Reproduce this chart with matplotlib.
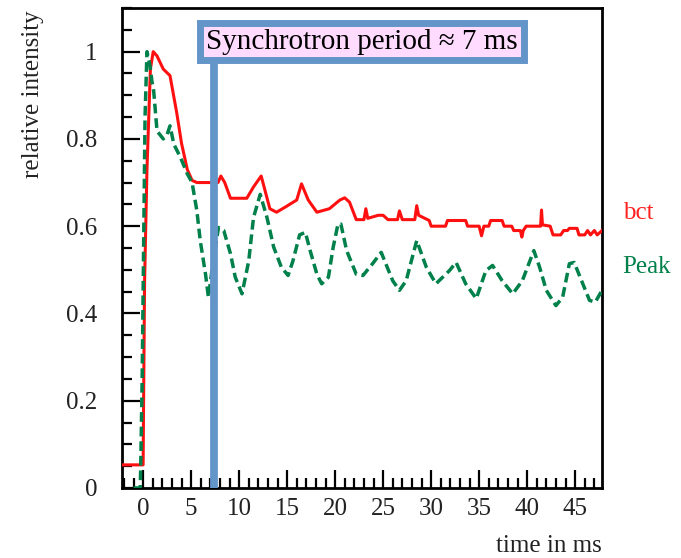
import matplotlib
matplotlib.use("Agg")
import matplotlib.pyplot as plt
from matplotlib.ticker import MultipleLocator, FuncFormatter

plt.rcParams['font.family'] = ['Liberation Serif', 'DejaVu Serif']

# bct (beam current transformer) trace
bct_t = [-2.2, 0.0, 0.05, 0.15, 0.4, 0.76, 1.05, 1.45, 2.1, 2.8, 3.5, 4.0, 4.6, 5.1, 5.6,
         7.8, 8.1, 8.5, 9.1, 10.8, 11.5, 12.3, 13.2, 13.9, 14.9, 16.0, 16.5, 17.2, 18.1,
         19.4, 20.5, 21.0, 21.5, 22.2, 23.0, 23.2, 23.4, 24.5, 25.0, 25.5, 26.5, 26.7,
         27.0, 28.3, 28.5, 28.7, 29.8, 30.0, 31.5, 31.7, 33.6, 33.8, 35.0, 35.25, 35.5,
         36.0, 36.2, 37.4, 37.6, 38.4, 38.6, 39.3, 39.45, 39.6, 39.9, 41.4, 41.5, 41.6,
         42.4, 42.7, 43.5, 43.8, 44.2, 44.4, 45.2, 45.4, 46.0, 46.3, 46.6, 47.0, 47.3, 47.8]
bct_y = [0.053, 0.053, 0.20, 0.47, 0.73, 0.96, 1.0, 0.99, 0.96, 0.945, 0.86, 0.79, 0.73, 0.705, 0.70,
         0.70, 0.715, 0.70, 0.664, 0.664, 0.69, 0.715, 0.64, 0.632, 0.645, 0.66, 0.697, 0.66, 0.632,
         0.64, 0.66, 0.665, 0.655, 0.615, 0.615, 0.64, 0.618, 0.625, 0.625, 0.615, 0.615, 0.635,
         0.615, 0.615, 0.647, 0.625, 0.613, 0.60, 0.60, 0.613, 0.613, 0.60, 0.60, 0.578, 0.60,
         0.60, 0.613, 0.613, 0.60, 0.60, 0.59, 0.59, 0.575, 0.59, 0.60, 0.60, 0.637, 0.603,
         0.60, 0.58, 0.58, 0.59, 0.59, 0.595, 0.595, 0.58, 0.58, 0.59, 0.58, 0.59, 0.58, 0.59]

# peak signal trace
peak_t = [-1.0, -0.3, -0.25, -0.1, 0.05, 0.2, 0.4, 0.7, 0.93, 1.1, 1.45, 2.1, 2.5, 2.8, 3.2,
          3.9, 4.6, 5.1, 5.6, 5.95, 6.5, 6.8, 7.3, 7.85, 8.4, 9.1, 9.6, 10.3, 11.0, 11.5,
          12.2, 12.9, 13.6, 14.4, 15.1, 15.6, 16.3, 16.9, 17.4, 18.1, 18.6, 19.3, 19.8,
          20.3, 20.6, 21.2, 22.2, 22.9, 23.9, 24.8, 26.0, 26.7, 27.4, 28.5, 29.5, 30.5,
          31.9, 32.6, 33.6, 34.7, 35.7, 36.4, 37.4, 38.5, 39.5, 40.7, 41.3, 42.0, 43.0,
          43.7, 44.4, 44.9, 45.8, 46.5, 47.1, 47.7]
peak_y = [0.0, 0.0, 0.05, 0.25, 0.55, 0.85, 1.0, 0.97, 0.93, 0.91, 0.818, 0.80, 0.81, 0.83, 0.788,
          0.757, 0.72, 0.70, 0.635, 0.567, 0.49, 0.437, 0.52, 0.597, 0.59, 0.537, 0.483, 0.445, 0.52, 0.62,
          0.673, 0.62, 0.552, 0.506, 0.487, 0.52, 0.58, 0.586, 0.544, 0.49, 0.468, 0.483, 0.552,
          0.605, 0.605, 0.544, 0.49, 0.487, 0.514, 0.54, 0.475, 0.453, 0.475, 0.567, 0.506, 0.468,
          0.498, 0.517, 0.468, 0.434, 0.498, 0.51, 0.475, 0.445, 0.475, 0.544, 0.506, 0.453, 0.418,
          0.437, 0.514, 0.517, 0.468, 0.43, 0.426, 0.449]

sync_marker_t = 7.35

fig = plt.figure(figsize=(6.81, 5.58), dpi=100)
ax = fig.add_axes([122 / 681, 1 - 488 / 558, 480 / 681, 480 / 558])

ax.plot(bct_t, bct_y, color='#ff1010', lw=2.2, zorder=3)
ax.plot(peak_t, peak_y, color='#00804a', lw=2.5, dashes=(2.8, 1.4), zorder=4)
ax.plot([sync_marker_t, sync_marker_t], [0, 1.0], color='#6495c8', lw=5.6,
        solid_capstyle='butt', zorder=9, clip_on=False)
ax.text(22.8, 1.023, 'Synchrotron period \u2248 7 ms', fontsize=21, ha='center', va='center',
        zorder=10,
        bbox=dict(boxstyle='square,pad=0.2', fc='#ffdcff', ec='#6495c8', lw=5))

ax.set_xlim(-2.2, 47.8)
ax.set_ylim(0, 1.1)
ax.xaxis.set_major_locator(MultipleLocator(5))
ax.xaxis.set_minor_locator(MultipleLocator(1))
ax.yaxis.set_major_locator(MultipleLocator(0.2))
ax.yaxis.set_minor_locator(MultipleLocator(0.05))
ax.xaxis.set_major_formatter(FuncFormatter(lambda v, p: '{:g}'.format(v)))
ax.yaxis.set_major_formatter(FuncFormatter(lambda v, p: '{:g}'.format(round(v, 2))))
ax.tick_params(which='both', direction='in', width=1.6, top=False, right=False)
ax.tick_params(which='major', length=13)
ax.tick_params(which='minor', length=7)
ax.tick_params(axis='y', which='major', pad=18, labelsize=18, labelcolor='#222222')
ax.tick_params(axis='x', which='major', pad=7, labelsize=18, labelcolor='#222222')
for s in ax.spines.values():
    s.set_linewidth(2.0)

fig.text(33 / 681, 1 - 94 / 558, 'relative intensity', rotation=90, fontsize=18,
         ha='center', va='center', color='#222222')
fig.text(602 / 681, 1 - 546 / 558, 'time in ms', fontsize=18, ha='right', va='center',
         color='#222222')
fig.text(623 / 681, 1 - 213 / 558, 'bct', fontsize=18, ha='left', va='center', color='#ff2020')
fig.text(622 / 681, 1 - 267 / 558, 'Peak', fontsize=18, ha='left', va='center', color='#00804a')

fig.savefig('out.png', dpi=100)
